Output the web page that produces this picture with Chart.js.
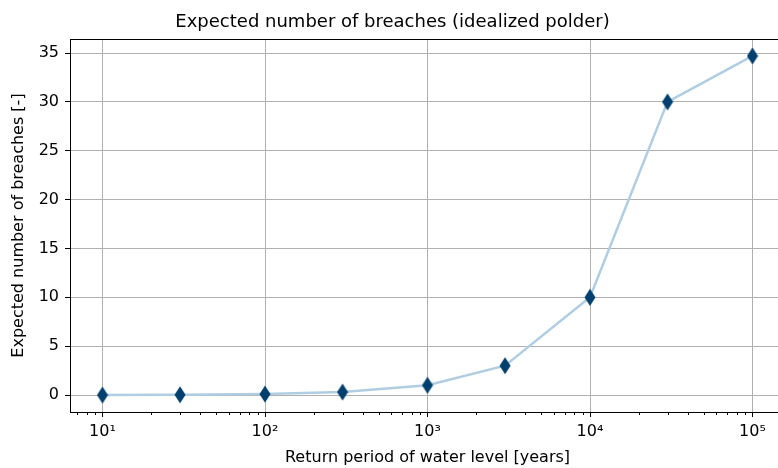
<!DOCTYPE html>
<html>
<head>
<meta charset="utf-8">
<script src="https://cdn.jsdelivr.net/npm/chart.js@4"></script>
<style>
html,body{margin:0;padding:0;background:#fff;overflow:hidden;width:778px;height:468px;}
#clip{position:relative;width:778px;height:468px;overflow:hidden;}
#wrap{position:absolute;left:0;top:0;width:785px;height:468px;}
</style>
</head>
<body>
<div id="clip"><div id="wrap"><canvas id="c" width="785" height="468"></canvas></div></div>
<script>
// ---- data ----
const returnPeriods = [10, 30, 100, 300, 1000, 3000, 10000, 30000, 100000];
const expectedBreaches = [0, 0.03, 0.1, 0.3, 1, 3, 10, 30, 34.7];
const yTickValues = [0, 5, 10, 15, 20, 25, 30, 35];
const xMajorTicks = [10, 100, 1000, 10000, 100000];
const xTickLabels = ['10\u00B9', '10\u00B2', '10\u00B3', '10\u2074', '10\u2075'];
const titleText = 'Expected number of breaches (idealized polder)';
const xTitle = 'Return period of water level [years]';
const yTitle = 'Expected number of breaches [-]';

// thin diamond marker
const marker = document.createElement('canvas');
marker.width = 12; marker.height = 18;
(function(){
  const g = marker.getContext('2d');
  g.fillStyle = '#003f6e';
  g.beginPath();
  g.moveTo(6, 0.5); g.lineTo(11.5, 9); g.lineTo(6, 17.5); g.lineTo(0.5, 9);
  g.closePath(); g.fill();
})();

const FONT = "'DejaVu Sans', sans-serif";
const xMin = Math.pow(10, 0.8), xMax = Math.pow(10, 5.2);
const yMin = -1.735, yMax = 36.435;

function isMajor(v){ return xMajorTicks.some(m => Math.abs(m - v) < 1e-6 * m); }

const frame = {
  id: 'frame',
  afterDraw(chart){
    const {ctx, chartArea: a} = chart;
    const xs = chart.scales.x;
    ctx.save();
    ctx.strokeStyle = '#000';
    ctx.lineWidth = 1;
    xs.ticks.forEach(t => {
      if (isMajor(t.value)) return;
      const px = Math.round(xs.getPixelForValue(t.value)) + 0.5;
      ctx.beginPath(); ctx.moveTo(px, a.bottom); ctx.lineTo(px, a.bottom + 3); ctx.stroke();
    });
    ctx.beginPath();
    ctx.rect(Math.round(a.left) + 0.5, Math.round(a.top) + 0.5, Math.round(a.right - a.left), Math.round(a.bottom - a.top));
    ctx.stroke();
    ctx.restore();
  }
};

new Chart(document.getElementById('c'), {
  type: 'line',
  data: {
    datasets: [{
      data: returnPeriods.map((x, i) => ({x: x, y: expectedBreaches[i]})),
      borderColor: '#b0cde2',
      borderWidth: 2.5,
      pointStyle: marker,
      pointRadius: 9,
      pointHoverRadius: 9,
      tension: 0,
      fill: false
    }]
  },
  plugins: [frame],
  options: {
    responsive: false,
    animation: false,
    events: [],
    layout: {autoPadding: false, padding: {left: 0, right: 0, top: 0, bottom: 0}},
    plugins: {
      legend: {display: false},
      tooltip: {enabled: false},
      title: {
        display: true, text: titleText, color: '#000',
        font: {family: FONT, size: 18, weight: 'normal', lineHeight: 1.2},
        padding: {top: 12, bottom: 5.4}
      }
    },
    scales: {
      x: {
        type: 'logarithmic', min: xMin, max: xMax,
        afterBuildTicks(scale){
          const t = [];
          for (let d = 0; d <= 5; d++) for (let k = 1; k <= 9; k++) {
            const v = k * Math.pow(10, d);
            if (v >= xMin && v <= xMax) t.push({value: v, major: isMajor(v)});
          }
          scale.ticks = t;
        },
        afterFit(scale){ scale.height = 56; },
        grid: {
          display: true,
          color: ctx => (ctx.tick && isMajor(ctx.tick.value)) ? '#b0b0b0' : 'rgba(0,0,0,0)',
          lineWidth: 1,
          drawTicks: true, tickLength: 5,
          tickColor: ctx => (ctx.tick && isMajor(ctx.tick.value)) ? '#000' : 'rgba(0,0,0,0)'
        },
        border: {display: true, color: '#000', width: 1},
        ticks: {
          autoSkip: false, maxRotation: 0, padding: 5, color: '#000',
          font: {family: FONT, size: 16},
          callback(v){ const i = xMajorTicks.findIndex(m => Math.abs(m - v) < 1e-6 * m); return i >= 0 ? xTickLabels[i] : ''; }
        },
        title: {display: true, text: xTitle, color: '#000', font: {family: FONT, size: 16}, padding: {top: 0, bottom: 0.4}}
      },
      y: {
        type: 'linear', min: yMin, max: yMax,
        afterBuildTicks(scale){ scale.ticks = yTickValues.map(v => ({value: v})); },
        afterFit(scale){ scale.width = 70; },
        grid: {color: '#b0b0b0', lineWidth: 1, drawTicks: true, tickLength: 5, tickColor: '#000'},
        border: {display: true, color: '#000', width: 1},
        ticks: {padding: 6, color: '#000', font: {family: FONT, size: 16}},
        title: {display: true, text: yTitle, color: '#000', font: {family: FONT, size: 16}, padding: {top: 9, bottom: 0}}
      }
    }
  }
});
</script>
</body>
</html>
